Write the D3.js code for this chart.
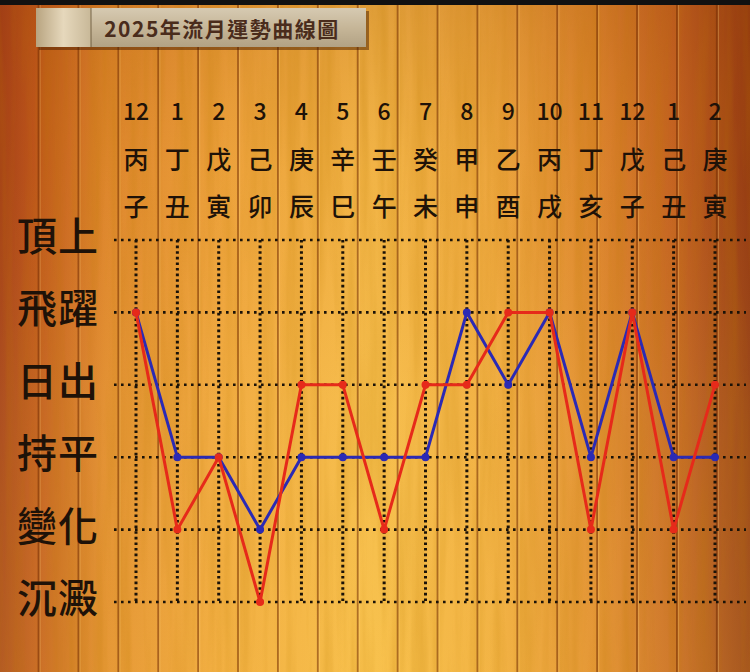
<!DOCTYPE html>
<html><head><meta charset="utf-8">
<script src="https://cdn.jsdelivr.net/npm/d3@7/dist/d3.min.js"></script>
<style>html,body{margin:0;padding:0;background:#000;}svg{display:block;}</style>
</head><body>
<script>
const titleText = "2025年流月運勢曲線圖";
const months = ["12","1","2","3","4","5","6","7","8","9","10","11","12","1","2"];
const stems = ["丙","丁","戊","己","庚","辛","壬","癸","甲","乙","丙","丁","戊","己","庚"];
const branches = ["子","丑","寅","卯","辰","巳","午","未","申","酉","戌","亥","子","丑","寅"];
const levels = ["沉澱","變化","持平","日出","飛躍","頂上"];
const redSeries = [4,1,2,0,3,3,1,3,3,4,4,1,4,1,3];
const blueSeries = [4,2,2,1,2,2,2,2,4,3,4,2,4,2,2];

const W = 750, H = 672;
const svg = d3.select("body").append("svg").attr("width", W).attr("height", H);
const defs = svg.append("defs");
const font = "'Noto Sans CJK TC','Noto Sans CJK SC','Noto Sans',sans-serif";

// wood background
const bg = defs.append("linearGradient").attr("id","wood").attr("x1","0").attr("x2","1").attr("y1","0").attr("y2","0");
[[0,"#a4401a"],[0.05,"#bf581e"],[0.14,"#e08a30"],[0.3,"#f0a840"],[0.5,"#f6bc4c"],[0.66,"#f0ac42"],[0.8,"#de8830"],[0.9,"#c46424"],[1,"#923a14"]]
  .forEach(s => bg.append("stop").attr("offset", s[0]).attr("stop-color", s[1]));
svg.append("rect").attr("width", W).attr("height", H).attr("fill","url(#wood)");

const vg = defs.append("linearGradient").attr("id","vshade").attr("x1","0").attr("x2","0").attr("y1","0").attr("y2","1");
[[0,"rgba(150,55,0,0.22)"],[0.25,"rgba(190,80,0,0.08)"],[0.6,"rgba(255,215,90,0.10)"],[1,"rgba(255,215,80,0.18)"]]
  .forEach(s => vg.append("stop").attr("offset", s[0]).attr("stop-color", s[1]));
svg.append("rect").attr("width", W).attr("height", H).attr("fill","url(#vshade)");

// grain texture
const f = defs.append("filter").attr("id","grain").attr("x",0).attr("y",0).attr("width","100%").attr("height","100%");
f.append("feTurbulence").attr("type","fractalNoise").attr("baseFrequency","0.08 0.004").attr("numOctaves",3).attr("seed",7);
f.append("feColorMatrix").attr("type","matrix").attr("values","0 0 0 0 0.5  0 0 0 0 0.2  0 0 0 0 0  0 0 0 -1.6 1.05");
svg.append("rect").attr("width", W).attr("height", H).attr("filter","url(#grain)").attr("opacity",0.28);

// plank seams
const seams = d3.range(38.5, W, 39.9);
svg.append("g").selectAll("line").data(seams).join("line")
  .attr("x1", d => d + 1.6).attr("x2", d => d + 1.6).attr("y1", 0).attr("y2", H)
  .attr("stroke","rgba(255,225,140,0.25)").attr("stroke-width",1.2);
svg.append("g").selectAll("line").data(seams).join("line")
  .attr("x1", d => d).attr("x2", d => d).attr("y1", 0).attr("y2", H)
  .attr("stroke","rgba(115,45,5,0.55)").attr("stroke-width",1.8);

// top dark band
svg.append("rect").attr("width", W).attr("height", 5).attr("fill","#111");

// title banner
const bn = defs.append("linearGradient").attr("id","banner").attr("x1","0").attr("x2","0").attr("y1","0").attr("y2","1");
[[0,"#d6cab2"],[0.5,"#c6b698"],[1,"#b2a284"]].forEach(s => bn.append("stop").attr("offset", s[0]).attr("stop-color", s[1]));
const bl = defs.append("linearGradient").attr("id","bannerL").attr("x1","0").attr("x2","1").attr("y1","0").attr("y2","0");
[[0,"#b8a480"],[0.5,"#e6d8bc"],[1,"#c8b898"]].forEach(s => bl.append("stop").attr("offset", s[0]).attr("stop-color", s[1]));
svg.append("rect").attr("x",39).attr("y",11).attr("width",330).attr("height",39).attr("fill","rgba(60,20,0,0.45)");
svg.append("rect").attr("x",36).attr("y",8).attr("width",330).attr("height",39).attr("fill","url(#banner)");
svg.append("rect").attr("x",36).attr("y",8).attr("width",55).attr("height",39).attr("fill","url(#bannerL)");
svg.append("line").attr("x1",91).attr("x2",91).attr("y1",8).attr("y2",47).attr("stroke","rgba(90,70,40,0.5)").attr("stroke-width",1.5);
svg.append("text").attr("x",222).attr("y",28).attr("text-anchor","middle").attr("dominant-baseline","central")
  .attr("font-family",font).attr("font-weight","bold").attr("font-size",21).attr("letter-spacing",1.5)
  .attr("fill","#4a2c1c").text(titleText);

// scales
const x = d3.scalePoint().domain(d3.range(months.length)).range([136, 715]);
const y = d3.scaleLinear().domain([0, levels.length - 1]).range([602, 240]);

// headers
const hdr = svg.append("g").attr("font-family",font).attr("font-weight",500).attr("fill","#1e1208").attr("text-anchor","middle").attr("dominant-baseline","central");
hdr.selectAll("text.m").data(months).join("text").attr("class","m")
  .attr("x",(d,i)=>x(i)).attr("y",110).attr("font-size",23).text(d=>d);
hdr.selectAll("text.s").data(stems).join("text").attr("class","s")
  .attr("x",(d,i)=>x(i)).attr("y",158).attr("font-size",25).text(d=>d);
hdr.selectAll("text.b").data(branches).join("text").attr("class","b")
  .attr("x",(d,i)=>x(i)).attr("y",205).attr("font-size",25).text(d=>d);

// left level labels
svg.append("g").selectAll("text").data(levels).join("text")
  .attr("x",17).attr("y",(d,i)=>y(i)-6).attr("dominant-baseline","central")
  .attr("font-family",font).attr("font-weight",500).attr("font-size",40).attr("fill","#1e1208").attr("letter-spacing",1).text(d=>d);

// grid
const grid = svg.append("g").attr("stroke","#1a1208").attr("fill","none");
grid.selectAll("line.h").data(levels).join("line").attr("class","h")
  .attr("x1",114).attr("x2",746).attr("y1",(d,i)=>y(i)).attr("y2",(d,i)=>y(i))
  .attr("stroke-width",2.6).attr("stroke-dasharray","2.6,4.4");
grid.selectAll("line.v").data(months).join("line").attr("class","v")
  .attr("x1",(d,i)=>x(i)).attr("x2",(d,i)=>x(i)).attr("y1",y(levels.length-1)).attr("y2",y(0))
  .attr("stroke-width",3).attr("stroke-dasharray","2.6,3");

// series
const line = d3.line().x((d,i)=>x(i)).y(d=>y(d));
function drawSeries(data, color){
  svg.append("path").datum(data).attr("d",line).attr("fill","none")
    .attr("stroke",color).attr("stroke-width",3).attr("stroke-linejoin","round");
  svg.append("g").selectAll("circle").data(data).join("circle")
    .attr("cx",(d,i)=>x(i)).attr("cy",d=>y(d)).attr("r",4).attr("fill",color);
}
drawSeries(blueSeries, "#2b2ab4");
drawSeries(redSeries, "#e62a1a");
</script>
</body></html>
